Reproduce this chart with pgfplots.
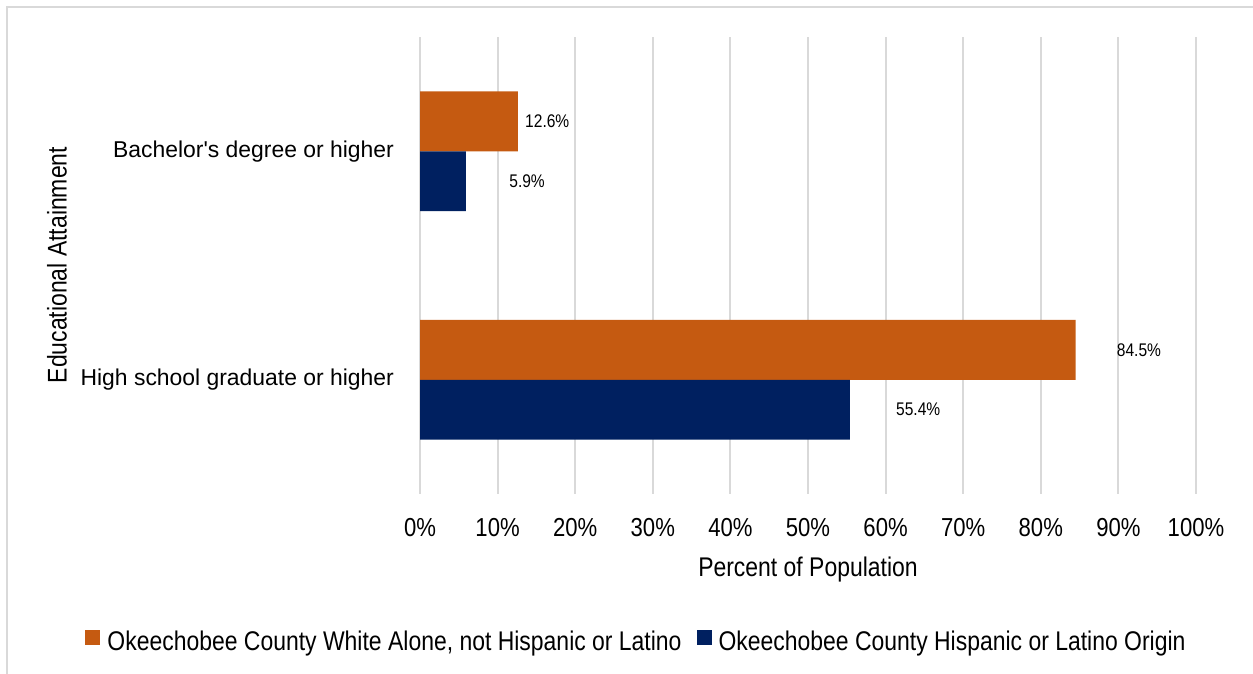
\documentclass[border=0pt]{standalone}
\usepackage{pgfplots}
\pgfplotsset{compat=1.18}
\usepackage{fontspec}
\setmainfont{Liberation Sans}
\newfontfamily\narrow{Liberation Sans}[FakeStretch=0.85]
\definecolor{barorange}{HTML}{C55A11}
\definecolor{barnavy}{HTML}{002060}
\definecolor{gridgray}{HTML}{D9D9D9}
\begin{document}
\begin{tikzpicture}
\begin{axis}[
  at={(420pt,-494pt)}, anchor=south west,
  scale only axis, width=776pt, height=457pt,
  xmin=0, xmax=100, ymin=-0.5, ymax=1.5, y dir=reverse,
  axis line style={draw=none},
  major tick length=0pt,
  xmajorgrids, major grid style={gridgray, line width=2pt},
  xtick={0,10,20,30,40,50,60,70,80,90,100},
  xticklabels={0\%,10\%,20\%,30\%,40\%,50\%,60\%,70\%,80\%,90\%,100\%},
  xticklabel style={font=\narrow\fontsize{26}{30}\selectfont, inner sep=0pt, anchor=north, yshift=-24pt},
  ytick={0,1},
  yticklabels={Bachelor\textquotesingle s degree or higher, High school graduate or higher},
  yticklabel style={font=\fontsize{22.9}{27}\selectfont, inner sep=0pt, anchor=east, xshift=-26pt},
  xlabel={Percent of Population},
  every axis x label/.style={at={(axis description cs:0.5,0)}, anchor=north, inner sep=0pt, yshift=-63pt, font=\narrow\fontsize{27}{30}\selectfont},
  ylabel={Educational Attainment},
  every axis y label/.style={at={(axis description cs:0,0.501)}, xshift=-363pt, rotate=90, anchor=center, inner sep=0pt, font=\narrow\fontsize{27}{30}\selectfont},
  legend columns=-1,
  legend style={at={(axis description cs:0.5,0)}, anchor=center, xshift=-172.5pt, yshift=-146pt, draw=none, fill=none, inner sep=0pt,
    font=\narrow\fontsize{27}{30}\selectfont,
    nodes={inner sep=0pt, text depth=0pt},
    /tikz/every odd column/.append style={column sep=7pt},
    /tikz/every even column/.append style={column sep=15pt}},
  legend image code/.code={\fill[#1] (0pt,-4pt) rectangle (15pt,11pt);},
]
\addplot[xbar, bar width=0.262, bar shift=-0.131, fill=barorange, draw=none] coordinates {(12.6,0) (84.5,1)};
\addlegendentry{Okeechobee County White Alone, not Hispanic or Latino}
\addplot[xbar, bar width=0.262, bar shift=0.131, fill=barnavy, draw=none] coordinates {(5.9,0) (55.4,1)};
\addlegendentry{Okeechobee County Hispanic or Latino Origin}
\addplot[draw=none, forget plot, nodes near coords, point meta=explicit symbolic,
  nodes near coords align={center},
  every node near coord/.append style={anchor=center, font=\narrow\fontsize{18.3}{22}\selectfont}]
  table[meta=lbl] {
x y lbl
16.4 -0.131 12.6\%
13.8 0.131 5.9\%
92.65 0.869 84.5\%
64.2 1.131 55.4\%
};
\end{axis}
\draw[gridgray, line width=2pt] (7pt,-7pt) rectangle (1270pt,-690pt);
\pgfresetboundingbox
\useasboundingbox (0,0) rectangle (1253pt,-673pt);
\end{tikzpicture}
\end{document}
